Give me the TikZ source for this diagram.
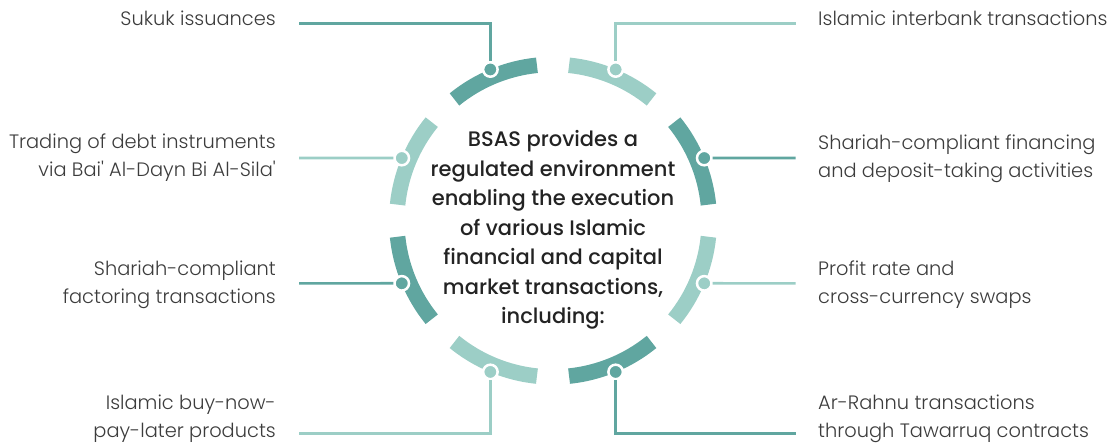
\documentclass[tikz,border=0pt]{standalone}
\usepackage{fontspec}
\setmainfont{Poppins}
\newfontfamily\lblfont{Poppins}[UprightFont={* Light}]
\newfontfamily\midfont{Poppins}[UprightFont={* Medium}]
\usetikzlibrary{positioning}

\definecolor{tealdark}{RGB}{96,166,160}
\definecolor{teallight}{RGB}{156,206,198}
\definecolor{lblgray}{RGB}{60,60,60}
\definecolor{midgray}{RGB}{35,35,35}

\begin{document}
\begin{tikzpicture}[x=1pt, y=1pt,
  seg/.style={line width=15.5pt},
  lnk/.style={line width=2.7pt},
  dot/.style={circle, fill=#1, draw=white, line width=2.5pt, minimum size=14.5pt, inner sep=0pt},
  lbl/.style={font=\lblfont\fontsize{19.4}{28}\selectfont, text=lblgray, inner sep=0pt}]
\useasboundingbox (0,0) rectangle (1111,444);
\coordinate (c) at (553,223.3);

% ring of eight arcs
\foreach \a/\col in {22.5/tealdark, 67.5/teallight, 112.5/tealdark, 157.5/teallight,
                     202.5/tealdark, 247.5/teallight, 292.5/tealdark, 337.5/teallight}
  \draw[seg,\col] (c) ++(\a-16.6:156.25) arc[start angle=\a-16.6, end angle=\a+16.6, radius=156.25];

% dots on the outer rim
\node[dot=tealdark]  (d1) at ([shift={(112.5:163.7)}]c) {};
\node[dot=teallight] (d2) at ([shift={(67.5:163.7)}]c) {};
\node[dot=tealdark]  (d3) at ([shift={(22.5:163.7)}]c) {};
\node[dot=teallight] (d4) at ([shift={(-22.5:163.7)}]c) {};
\node[dot=tealdark]  (d5) at ([shift={(-67.5:163.7)}]c) {};
\node[dot=teallight] (d6) at ([shift={(-112.5:163.7)}]c) {};
\node[dot=tealdark]  (d7) at ([shift={(-157.5:163.7)}]c) {};
\node[dot=teallight] (d8) at ([shift={(157.5:163.7)}]c) {};

% line ends
\coordinate (e1) at (299,420.7);
\coordinate (e2) at (795.5,420.7);
\coordinate (e3) at (795.5,286);
\coordinate (e4) at (795.5,160.6);
\coordinate (e5) at (795.5,10.7);
\coordinate (e6) at (299,10.7);
\coordinate (e7) at (299,160.6);
\coordinate (e8) at (299,286);

% connectors
\draw[lnk,tealdark]  (d1) |- (e1);
\draw[lnk,teallight] (d2) |- (e2);
\draw[lnk,tealdark]  (d3) -- (e3);
\draw[lnk,teallight] (d4) -- (e4);
\draw[lnk,tealdark]  (d5) |- (e5);
\draw[lnk,teallight] (d6) |- (e6);
\draw[lnk,tealdark]  (d7) -- (e7);
\draw[lnk,teallight] (d8) -- (e8);

% labels
\node[lbl, anchor=east, align=right] (l1) at ([xshift=-23pt, yshift=5pt]e1) {Sukuk issuances};
\node[lbl, anchor=west, align=left] (l2) at ([xshift=22.5pt, yshift=5pt]e2) {Islamic interbank transactions};
\node[lbl, anchor=west, align=left] (l3) at ([xshift=22.5pt, yshift=-1pt]e3) {Shariah-compliant financing\\and deposit-taking activities};
\node[lbl, anchor=west, align=left] (l4) at ([xshift=22.5pt, yshift=-1pt]e4) {Profit rate and\\cross-currency swaps};
\node[lbl, anchor=west, align=left] (l5) at ([xshift=22.5pt, yshift=14.5pt]e5) {Ar-Rahnu transactions\\through Tawarruq contracts};
\node[lbl, anchor=east, align=right] (l6) at ([xshift=-23pt, yshift=14.5pt]e6) {Islamic buy-now-\\pay-later products};
\node[lbl, anchor=east, align=right] (l7) at ([xshift=-23pt, yshift=-1pt]e7) {Shariah-compliant\\factoring transactions};
\node[lbl, anchor=east, align=right] (l8) at ([xshift=-23pt, yshift=0pt]e8) {Trading of debt instruments\\via Bai' Al-Dayn Bi Al-Sila'};

% centre text
\node[align=center, font=\midfont\fontsize{21}{29.5}\selectfont, text=midgray] (txt) at (553,214)
  {BSAS provides a\\regulated environment\\enabling the execution\\of various Islamic\\financial and capital\\market transactions,\\including:};
\end{tikzpicture}
\end{document}
